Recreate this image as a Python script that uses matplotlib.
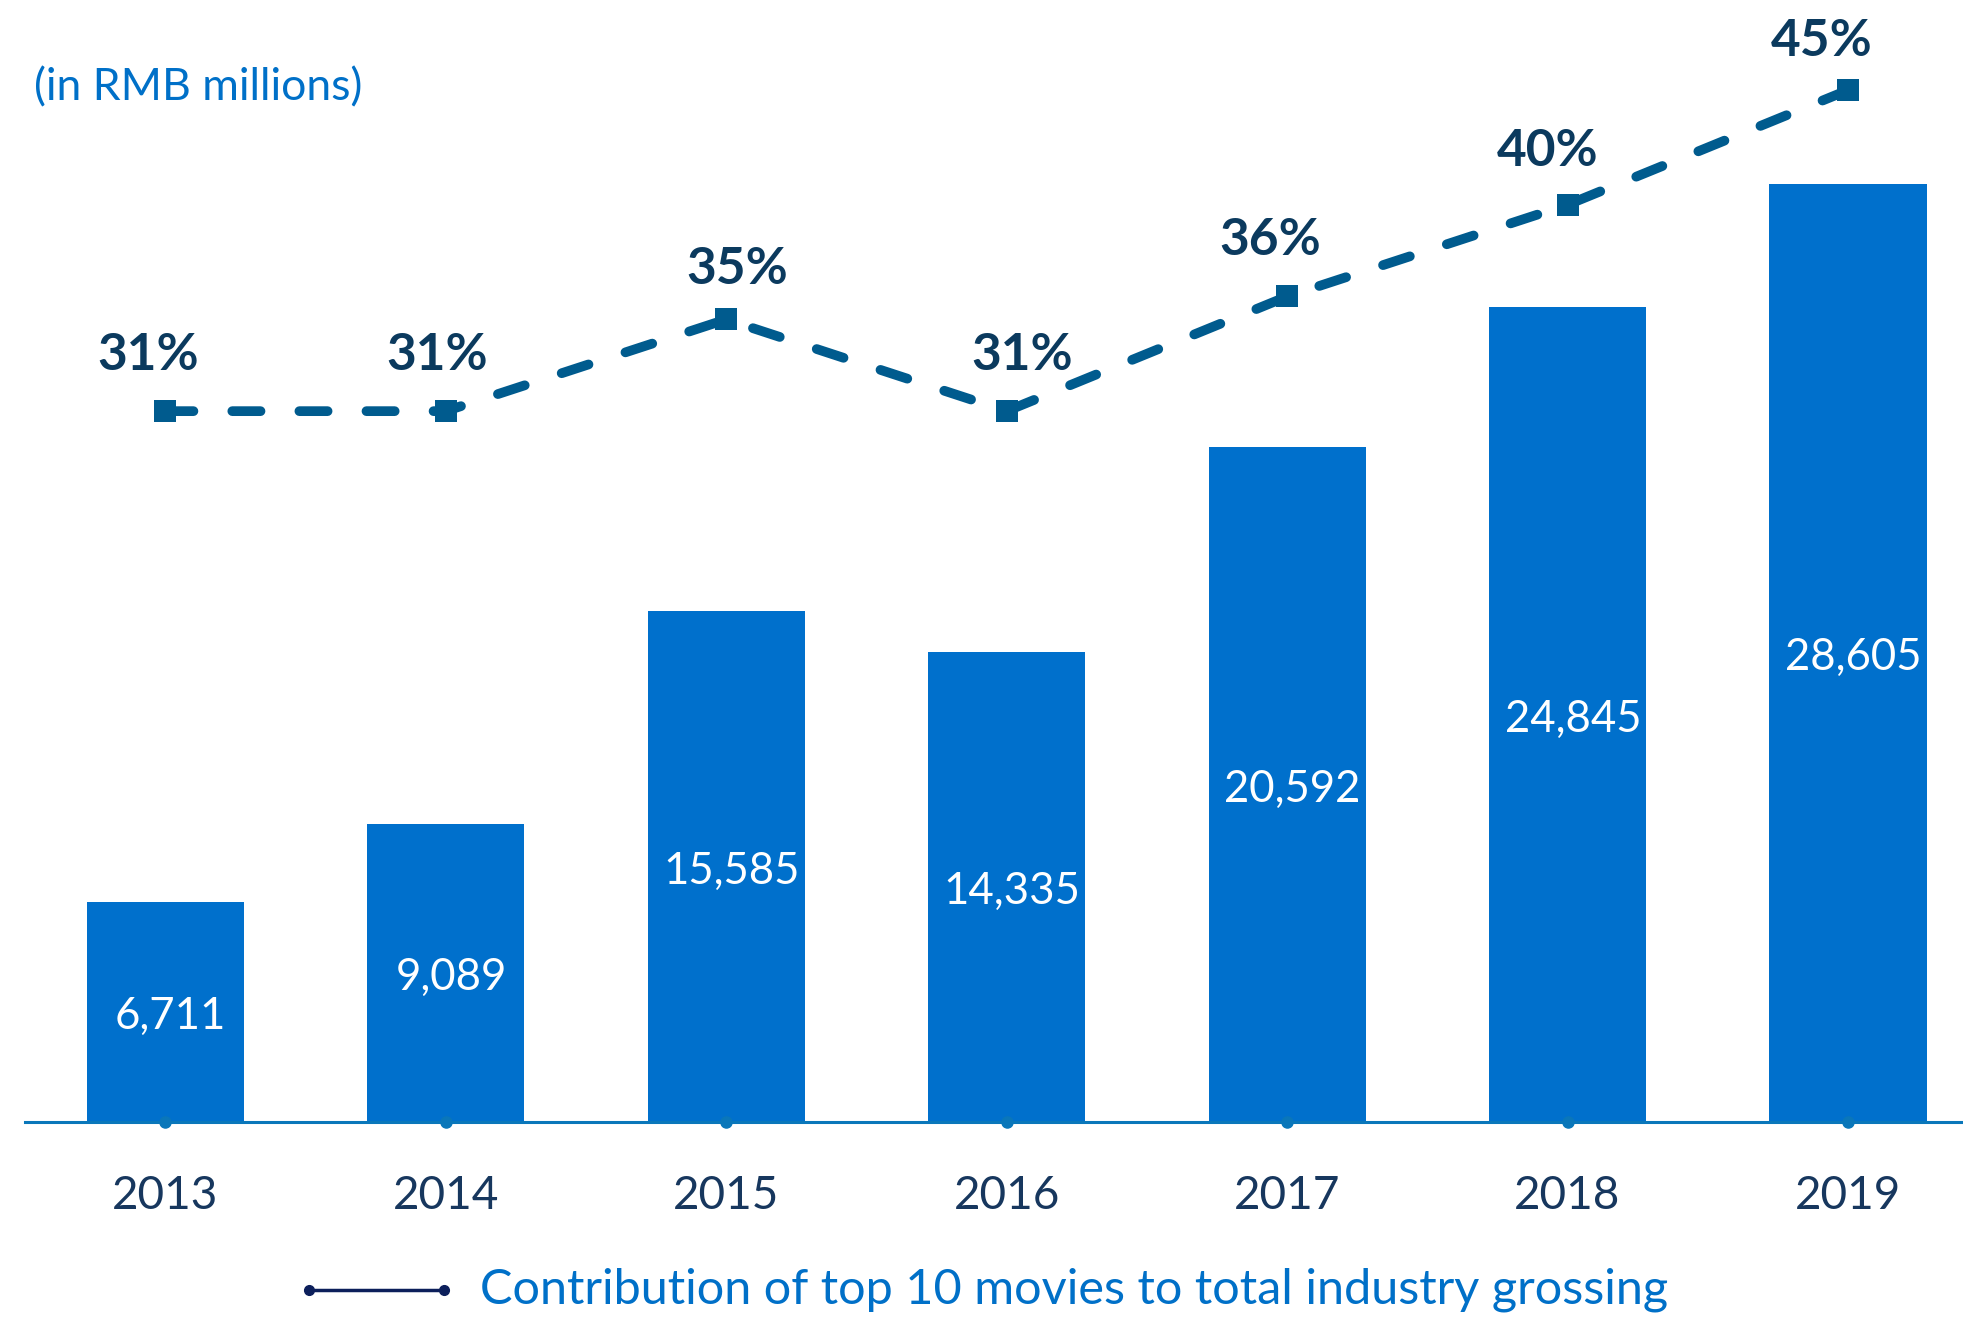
import numpy as np
import matplotlib
matplotlib.use("Agg")
import matplotlib.pyplot as plt
from matplotlib.lines import Line2D

plt.rcParams['font.family'] = ['Lato', 'DejaVu Sans']

# data
years = ['2013', '2014', '2015', '2016', '2017', '2018', '2019']
grossing = [6711, 9089, 15585, 14335, 20592, 24845, 28605]  # RMB millions
top10_share = [31, 31, 35, 31, 36, 40, 45]  # percent

bar_blue = '#0070CC'
line_blue = '#005B8E'
label_navy = '#0B3A5E'
year_navy = '#17375E'
text_blue = '#0070C8'

fig = plt.figure(figsize=(19.63, 13.2), dpi=100)
ax = fig.add_axes([25 / 1963, 198 / 1320, 1 - 25 / 1963, 1122 / 1320])

x = np.arange(len(years))
bars = ax.bar(x, grossing, width=0.56, color=bar_blue, zorder=2)
ax.set_xlim(-0.5, 6.41)
ax.set_ylim(0, 34217)

for xi, v in zip(x, grossing):
    ax.annotate('{:,}'.format(v), (xi, v / 2), xytext=(4, -3.5),
                textcoords='offset points', ha='center', va='center',
                color='white', fontsize=31.5, zorder=3)

# axis line and little dots on it
for s in ['top', 'right', 'left']:
    ax.spines[s].set_visible(False)
ax.spines['bottom'].set_color('#0A77BA')
ax.spines['bottom'].set_linewidth(2.2)
ax.plot(x, np.zeros(len(x)), 'o', color='#0A77BA', markersize=8,
        clip_on=False, zorder=4)

ax.set_yticks([])
ax.set_xticks(x)
ax.set_xticklabels(years, fontsize=33, color=year_navy)
ax.tick_params(axis='x', length=0, pad=38)

# share of top 10 on a second axis
ax2 = ax.twinx()
ax2.set_ylim(0, 48.93)
ax2.set_yticks([])
for s in ax2.spines.values():
    s.set_visible(False)
ax2.plot(x, top10_share, color=line_blue, linewidth=7, dashes=(2.9, 4.0),
         dash_capstyle='round', marker='s', markersize=16,
         markerfacecolor=line_blue, markeredgewidth=0, zorder=5)

label_dx = [-17, -9, 11, 16, -17, -20, -26]  # px nudges like the original
label_dy = [40, 40, 36, 40, 40, 38, 35]
for xi, p, dx, dy in zip(x, top10_share, label_dx, label_dy):
    ax2.annotate('{}%'.format(p), (xi, p), xytext=(dx * 0.72, dy),
                 textcoords='offset points', ha='center', va='center',
                 fontsize=37, fontweight='bold', color=label_navy)

fig.text(34 / 1963, 1 - 88 / 1320, '(in RMB millions)', fontsize=32,
         color=text_blue, ha='left', va='center')

# legend at the bottom
ly = 1 - 1290 / 1320
fig.add_artist(Line2D([309 / 1963, 444 / 1963], [ly, ly], color='#0C1F5B',
                      linewidth=2.5, marker='o', markersize=7,
                      transform=fig.transFigure))
fig.text(480 / 1963, ly, 'Contribution of top 10 movies to total industry grossing',
         fontsize=35, color=text_blue, ha='left', va='center')

fig.savefig('out.png', dpi=100)
